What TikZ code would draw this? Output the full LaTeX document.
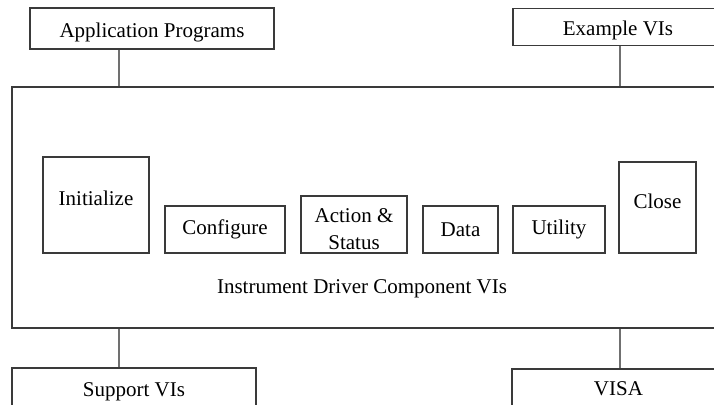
\documentclass[tikz,border=0pt]{standalone}
\usepackage{fontspec}
\setmainfont{Liberation Serif}
\definecolor{boxgray}{HTML}{3A3A3A}
\definecolor{linkgray}{HTML}{707070}
\begin{document}
\begin{tikzpicture}
[x=0.5pt, y=-0.5pt, font=\fontsize{10.5}{12.5}\selectfont,
 box/.style={draw=boxgray, line width=0.8pt, inner sep=0pt, align=center},
 low/.style={text height=11.5pt, text depth=2.5pt},
 high/.style={text height=8pt, text depth=7pt},
 link/.style={draw=linkgray, line width=0.8pt}]
\clip (0,0) rectangle (714,405);
\node [box, low, minimum width=122pt, minimum height=20.5pt] (app) at (152,28.5) {Application Programs};
\node [box, low, minimum width=105pt, minimum height=18.5pt] (example) at (618,27) {Example VIs};
\node [box, minimum width=356.5pt, minimum height=120.5pt] (main) at (368.5,207.5) {};
\node [box, low, minimum width=122pt, minimum height=20pt] (support) at (134,388) {Support VIs};
\node [box, minimum width=106.5pt, minimum height=20pt] (visa) at (618.5,389) {VISA};
\node [box, high, minimum width=53pt, minimum height=48pt] (init) at (96,205) {Initialize};
\node [box, minimum width=60pt, minimum height=23.5pt] (conf) at (225,229.5) {Configure};
\node [box, minimum width=53pt, minimum height=28.5pt] (act) at (354,224.5) {\rule{0pt}{12pt}Action \&\\[1pt]Status};
\node [box, minimum width=37.5pt, minimum height=23.5pt] (data) at (460.5,229.5) {Data};
\node [box, minimum width=46pt, minimum height=23.5pt] (util) at (559,229.5) {Utility};
\node [box, high, minimum width=38.5pt, minimum height=45.5pt] (close) at (657.5,207.5) {Close};
\node (comp) at (362,289) {Instrument Driver Component VIs};
\coordinate (lx) at (119,0);
\coordinate (rx) at (620,0);
\draw [link] (app.south -| lx) -- (main.north -| lx);
\draw [link] (example.south -| rx) -- (main.north -| rx);
\draw [link] (main.south -| lx) -- (support.north -| lx);
\draw [link] (main.south -| rx) -- (visa.north -| rx);
\end{tikzpicture}
\end{document}
